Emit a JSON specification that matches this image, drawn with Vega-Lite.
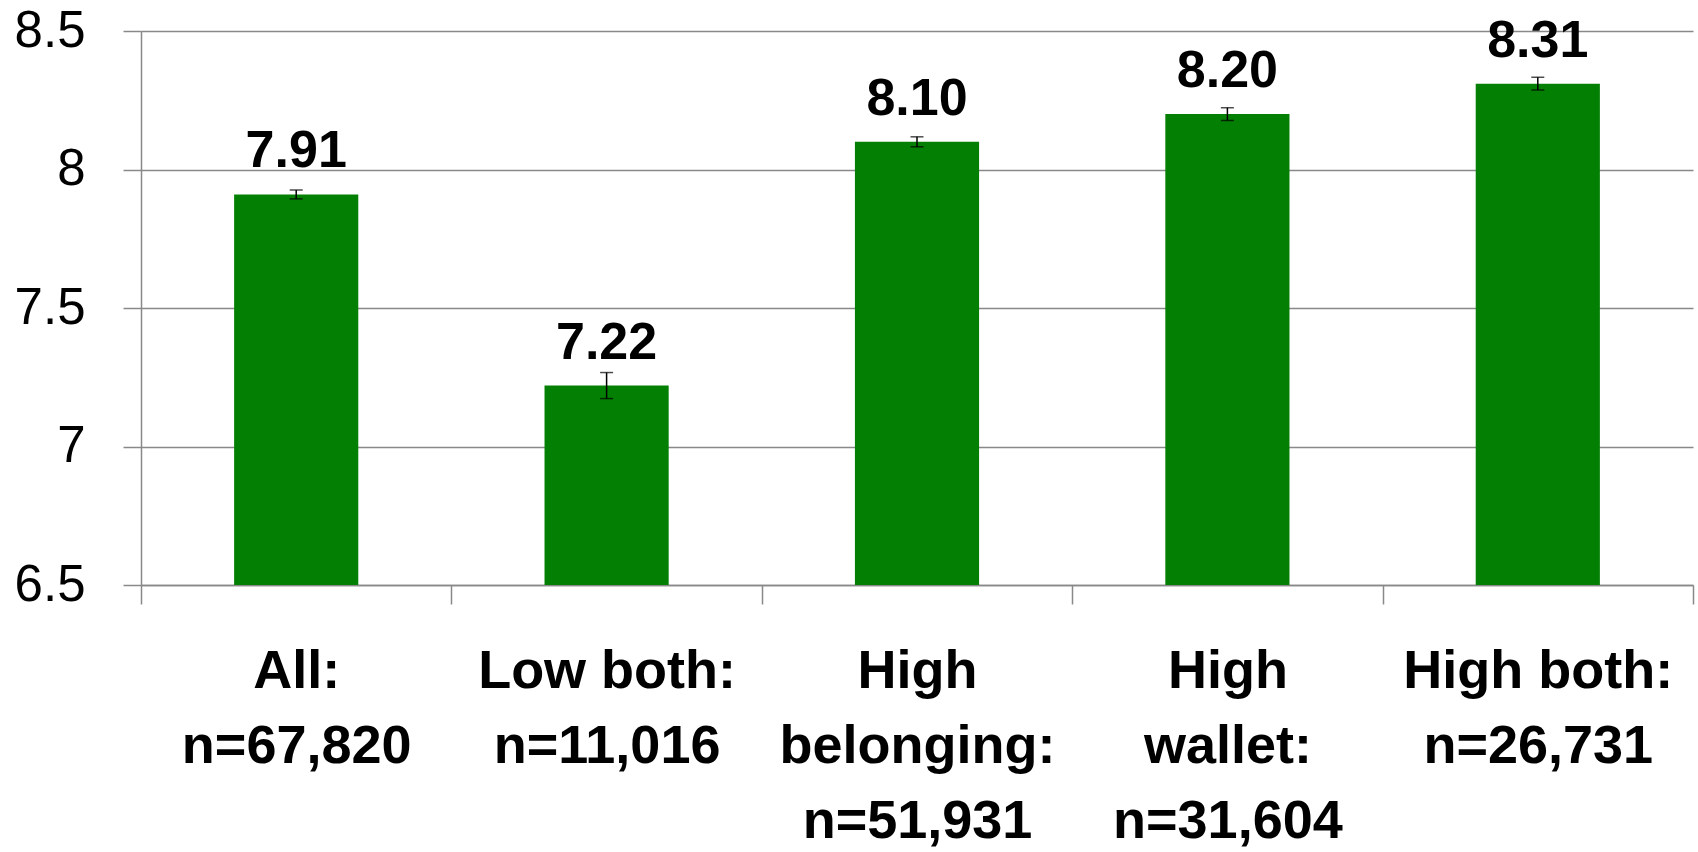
{
  "$schema": "https://vega.github.io/schema/vega-lite/v6.json",
  "autosize": {"type": "none"},
  "width": 1552,
  "height": 554,
  "padding": {"left": 141, "top": 31, "right": 5, "bottom": 267},
  "background": "white",
  "config": {"view": {"stroke": null}},
  "data": {
    "values": [
      {"group": "All:|n=67,820", "value": 7.91, "lo": 7.894, "hi": 7.926},
      {"group": "Low both:|n=11,016", "value": 7.22, "lo": 7.173, "hi": 7.267},
      {"group": "High|belonging:|n=51,931", "value": 8.10, "lo": 8.082, "hi": 8.118},
      {"group": "High|wallet:|n=31,604", "value": 8.20, "lo": 8.177, "hi": 8.223},
      {"group": "High both:|n=26,731", "value": 8.31, "lo": 8.287, "hi": 8.333}
    ]
  },
  "encoding": {
    "x": {
      "field": "group",
      "type": "nominal",
      "sort": null,
      "scale": {"paddingInner": 0, "paddingOuter": 0},
      "axis": {
        "title": null,
        "labelAngle": 0,
        "labelExpr": "split(datum.label, '|')",
        "labelFont": "Liberation Sans",
        "labelFontSize": 54,
        "labelFontWeight": "bold",
        "labelColor": "black",
        "labelLineHeight": 75,
        "labelBaseline": "top",
        "labelPadding": 40,
        "labelLimit": 0,
        "tickBand": "extent",
        "tickSize": 19,
        "tickColor": "#898989",
        "tickWidth": 1.5,
        "domainColor": "#898989",
        "domainWidth": 1.5,
        "grid": false
      }
    }
  },
  "layer": [
    {
      "mark": {"type": "bar", "color": "#038003", "width": {"band": 0.4}},
      "encoding": {
        "y": {
          "field": "value",
          "type": "quantitative",
          "scale": {"domain": [6.5, 8.5], "nice": false, "zero": false},
          "axis": {
            "title": null,
            "values": [6.5, 7, 7.5, 8, 8.5],
            "format": "~g",
            "labelFont": "Liberation Sans",
            "labelFontSize": 51,
            "labelColor": "black",
            "labelPadding": 38,
            "tickSize": 18,
            "tickColor": "#898989",
            "tickWidth": 1.5,
            "domainColor": "#898989",
            "domainWidth": 1.5,
            "grid": true,
            "gridColor": "#898989",
            "gridWidth": 1.5
          }
        },
        "y2": {"datum": 6.5}
      }
    },
    {
      "mark": {"type": "rule", "color": "black", "strokeWidth": 1.5},
      "encoding": {
        "y": {"field": "lo", "type": "quantitative"},
        "y2": {"field": "hi"}
      }
    },
    {
      "mark": {"type": "tick", "color": "black", "thickness": 1.5, "size": 13, "orient": "horizontal"},
      "encoding": {"y": {"field": "lo", "type": "quantitative"}}
    },
    {
      "mark": {"type": "tick", "color": "black", "thickness": 1.5, "size": 13, "orient": "horizontal"},
      "encoding": {"y": {"field": "hi", "type": "quantitative"}}
    },
    {
      "mark": {"type": "text", "dy": -27, "baseline": "alphabetic", "font": "Liberation Sans", "fontSize": 52, "fontWeight": "bold", "color": "black"},
      "encoding": {
        "y": {"field": "value", "type": "quantitative"},
        "text": {"field": "value", "type": "quantitative", "format": ".2f"}
      }
    }
  ]
}
